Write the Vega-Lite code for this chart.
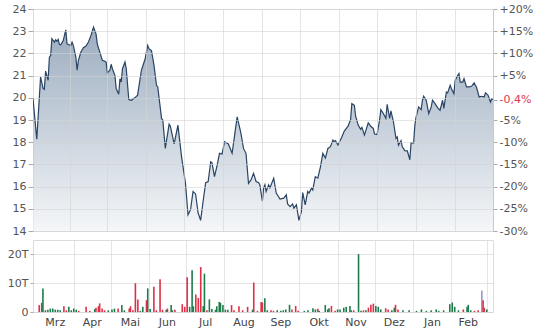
{
  "$schema": "https://vega.github.io/schema/vega-lite/v6.json",
  "background": "white",
  "padding": {"left": 6, "top": 2, "right": 4, "bottom": 2},
  "bounds": "flush",
  "spacing": 9,
  "config": {
    "view": {"stroke": "#dcdcdc"},
    "axis": {"labelFont": "DejaVu Sans", "labelFontSize": 11, "labelColor": "#555555", "tickColor": "#aaaaaa", "gridColor": "#d4d4d4", "gridOpacity": 0.6, "domainColor": "#c8c8c8", "title": null}
  },
  "datasets": {
    "price": [
      {"d":"2023-03-03","p":19.97},{"d":"2023-03-06","p":18.13},{"d":"2023-03-09","p":20.94},{"d":"2023-03-11","p":20.42},{"d":"2023-03-12","p":20.38},{"d":"2023-03-13","p":21.2},{"d":"2023-03-15","p":20.79},{"d":"2023-03-16","p":21.83},{"d":"2023-03-17","p":21.9},{"d":"2023-03-18","p":22.66},{"d":"2023-03-20","p":22.51},{"d":"2023-03-21","p":22.61},{"d":"2023-03-22","p":22.55},{"d":"2023-03-23","p":22.63},{"d":"2023-03-24","p":22.4},{"d":"2023-03-25","p":22.39},{"d":"2023-03-27","p":22.58},{"d":"2023-03-29","p":23.06},{"d":"2023-03-30","p":22.43},{"d":"2023-03-31","p":22.4},
      {"d":"2023-04-02","p":22.36},{"d":"2023-04-03","p":22.51},{"d":"2023-04-04","p":22.36},{"d":"2023-04-06","p":21.83},{"d":"2023-04-07","p":21.24},{"d":"2023-04-08","p":21.69},{"d":"2023-04-10","p":22.06},{"d":"2023-04-12","p":22.26},{"d":"2023-04-14","p":22.33},{"d":"2023-04-16","p":22.51},{"d":"2023-04-18","p":22.81},{"d":"2023-04-20","p":23.18},{"d":"2023-04-21","p":23.03},{"d":"2023-04-22","p":22.88},{"d":"2023-04-23","p":22.43},{"d":"2023-04-25","p":22.06},{"d":"2023-04-27","p":21.69},{"d":"2023-04-29","p":21.65},{"d":"2023-04-30","p":21.61},
      {"d":"2023-05-01","p":21.12},{"d":"2023-05-03","p":21.24},{"d":"2023-05-04","p":21.51},{"d":"2023-05-05","p":21.31},{"d":"2023-05-07","p":21.01},{"d":"2023-05-08","p":20.42},{"d":"2023-05-10","p":20.16},{"d":"2023-05-11","p":20.86},{"d":"2023-05-12","p":20.71},{"d":"2023-05-13","p":21.31},{"d":"2023-05-15","p":21.61},{"d":"2023-05-16","p":21.31},{"d":"2023-05-18","p":19.92},{"d":"2023-05-20","p":19.89},{"d":"2023-05-23","p":20.01},{"d":"2023-05-25","p":20.12},{"d":"2023-05-28","p":21.24},{"d":"2023-05-31","p":21.76},
      {"d":"2023-06-02","p":22.36},{"d":"2023-06-03","p":22.21},{"d":"2023-06-05","p":22.13},{"d":"2023-06-07","p":21.46},{"d":"2023-06-09","p":20.56},{"d":"2023-06-10","p":20.49},{"d":"2023-06-13","p":19.07},{"d":"2023-06-14","p":18.99},{"d":"2023-06-16","p":17.72},{"d":"2023-06-19","p":18.81},{"d":"2023-06-20","p":18.72},{"d":"2023-06-23","p":17.92},{"d":"2023-06-26","p":18.77},{"d":"2023-06-29","p":17.28},
      {"d":"2023-07-02","p":16.15},{"d":"2023-07-04","p":14.73},{"d":"2023-07-06","p":14.96},{"d":"2023-07-08","p":15.78},{"d":"2023-07-10","p":15.67},{"d":"2023-07-12","p":14.82},{"d":"2023-07-14","p":14.48},{"d":"2023-07-16","p":15.34},{"d":"2023-07-18","p":16.18},{"d":"2023-07-20","p":16.23},{"d":"2023-07-22","p":17.12},{"d":"2023-07-23","p":17.08},{"d":"2023-07-25","p":16.45},{"d":"2023-07-27","p":16.93},{"d":"2023-07-29","p":17.5},{"d":"2023-07-31","p":17.47},
      {"d":"2023-08-02","p":18.02},{"d":"2023-08-05","p":17.92},{"d":"2023-08-08","p":17.5},{"d":"2023-08-10","p":18.32},{"d":"2023-08-12","p":19.14},{"d":"2023-08-15","p":18.4},{"d":"2023-08-17","p":17.72},{"d":"2023-08-19","p":17.5},{"d":"2023-08-21","p":16.15},{"d":"2023-08-23","p":16.3},{"d":"2023-08-25","p":16.6},{"d":"2023-08-27","p":16.23},{"d":"2023-08-29","p":16.18},{"d":"2023-08-30","p":16.08},
      {"d":"2023-09-01","p":15.34},{"d":"2023-09-02","p":15.93},{"d":"2023-09-03","p":16.08},{"d":"2023-09-04","p":15.78},{"d":"2023-09-06","p":16.08},{"d":"2023-09-07","p":15.94},{"d":"2023-09-10","p":16.38},{"d":"2023-09-12","p":15.71},{"d":"2023-09-15","p":15.44},{"d":"2023-09-18","p":15.48},{"d":"2023-09-20","p":15.63},{"d":"2023-09-21","p":15.22},{"d":"2023-09-23","p":15.1},{"d":"2023-09-25","p":15.22},{"d":"2023-09-26","p":15.03},{"d":"2023-09-28","p":15.18},{"d":"2023-09-30","p":14.48},
      {"d":"2023-10-02","p":14.88},{"d":"2023-10-03","p":15.73},{"d":"2023-10-05","p":15.18},{"d":"2023-10-07","p":15.78},{"d":"2023-10-08","p":15.71},{"d":"2023-10-10","p":15.93},{"d":"2023-10-11","p":15.85},{"d":"2023-10-13","p":16.45},{"d":"2023-10-15","p":16.38},{"d":"2023-10-17","p":16.87},{"d":"2023-10-19","p":17.5},{"d":"2023-10-21","p":17.28},{"d":"2023-10-23","p":17.72},{"d":"2023-10-25","p":17.8},{"d":"2023-10-27","p":18.1},{"d":"2023-10-28","p":18.02},{"d":"2023-10-29","p":18.07},{"d":"2023-10-31","p":17.87},
      {"d":"2023-11-03","p":18.22},{"d":"2023-11-05","p":18.5},{"d":"2023-11-08","p":18.72},{"d":"2023-11-10","p":19.02},{"d":"2023-11-11","p":19.74},{"d":"2023-11-13","p":19.66},{"d":"2023-11-14","p":19.17},{"d":"2023-11-16","p":18.77},{"d":"2023-11-18","p":18.58},{"d":"2023-11-19","p":18.67},{"d":"2023-11-21","p":18.32},{"d":"2023-11-24","p":18.87},{"d":"2023-11-26","p":18.72},{"d":"2023-11-28","p":18.62},{"d":"2023-11-29","p":18.37},
      {"d":"2023-12-01","p":18.35},{"d":"2023-12-03","p":19.0},{"d":"2023-12-04","p":19.46},{"d":"2023-12-06","p":19.29},{"d":"2023-12-08","p":19.07},{"d":"2023-12-09","p":19.71},{"d":"2023-12-11","p":19.07},{"d":"2023-12-12","p":19.41},{"d":"2023-12-14","p":18.92},{"d":"2023-12-16","p":18.17},{"d":"2023-12-17","p":18.24},{"d":"2023-12-18","p":17.87},{"d":"2023-12-20","p":18.07},{"d":"2023-12-21","p":17.8},{"d":"2023-12-23","p":17.62},{"d":"2023-12-25","p":17.61},{"d":"2023-12-27","p":17.21},{"d":"2023-12-28","p":17.98},{"d":"2023-12-30","p":17.96},{"d":"2023-12-31","p":18.77},
      {"d":"2024-01-01","p":19.14},{"d":"2024-01-03","p":19.59},{"d":"2024-01-05","p":19.47},{"d":"2024-01-06","p":19.89},{"d":"2024-01-07","p":20.07},{"d":"2024-01-09","p":19.89},{"d":"2024-01-11","p":19.29},{"d":"2024-01-13","p":19.59},{"d":"2024-01-14","p":19.89},{"d":"2024-01-16","p":19.74},{"d":"2024-01-18","p":19.56},{"d":"2024-01-20","p":19.44},{"d":"2024-01-22","p":19.89},{"d":"2024-01-23","p":19.52},{"d":"2024-01-25","p":20.26},{"d":"2024-01-26","p":20.22},{"d":"2024-01-28","p":20.56},{"d":"2024-01-29","p":20.41},{"d":"2024-01-31","p":20.19},
      {"d":"2024-02-01","p":20.79},{"d":"2024-02-03","p":21.01},{"d":"2024-02-04","p":21.09},{"d":"2024-02-05","p":20.71},{"d":"2024-02-07","p":20.71},{"d":"2024-02-08","p":20.86},{"d":"2024-02-10","p":20.49},{"d":"2024-02-12","p":20.49},{"d":"2024-02-14","p":20.52},{"d":"2024-02-16","p":20.67},{"d":"2024-02-18","p":20.46},{"d":"2024-02-20","p":20.04},{"d":"2024-02-22","p":20.07},{"d":"2024-02-24","p":20.04},{"d":"2024-02-25","p":20.22},{"d":"2024-02-27","p":20.12},{"d":"2024-02-29","p":19.81},{"d":"2024-03-01","p":19.96},{"d":"2024-03-02","p":19.92}
    ],
    "vol": [
      {"d":"2023-03-04","v":2.4,"dir":"down"},{"d":"2023-03-06","v":3.2,"dir":"down"},{"d":"2023-03-07","v":8.2,"dir":"up"},{"d":"2023-03-09","v":0.6,"dir":"up"},{"d":"2023-03-11","v":0.8,"dir":"up"},{"d":"2023-03-13","v":1.2,"dir":"up"},{"d":"2023-03-15","v":1.2,"dir":"up"},{"d":"2023-03-17","v":0.8,"dir":"up"},{"d":"2023-03-19","v":0.8,"dir":"up"},{"d":"2023-03-21","v":0.6,"dir":"up"},{"d":"2023-03-24","v":2.0,"dir":"down"},{"d":"2023-03-26","v":0.6,"dir":"down"},{"d":"2023-03-28","v":1.8,"dir":"up"},{"d":"2023-03-30","v":0.6,"dir":"up"},
      {"d":"2023-04-01","v":1.2,"dir":"up"},{"d":"2023-04-03","v":0.8,"dir":"up"},{"d":"2023-04-05","v":0.4,"dir":"down"},{"d":"2023-04-11","v":1.8,"dir":"down"},{"d":"2023-04-14","v":0.4,"dir":"down"},{"d":"2023-04-18","v":1.0,"dir":"up"},{"d":"2023-04-19","v":1.5,"dir":"down"},{"d":"2023-04-21","v":2.0,"dir":"down"},{"d":"2023-04-22","v":3.0,"dir":"down"},{"d":"2023-04-24","v":1.2,"dir":"down"},{"d":"2023-04-26","v":0.6,"dir":"down"},{"d":"2023-04-29","v":0.6,"dir":"up"},
      {"d":"2023-05-02","v":0.9,"dir":"up"},{"d":"2023-05-04","v":1.2,"dir":"up"},{"d":"2023-05-07","v":1.2,"dir":"down"},{"d":"2023-05-10","v":2.4,"dir":"up"},{"d":"2023-05-12","v":0.6,"dir":"up"},{"d":"2023-05-16","v":1.2,"dir":"down"},{"d":"2023-05-17","v":2.0,"dir":"down"},{"d":"2023-05-19","v":0.6,"dir":"down"},{"d":"2023-05-21","v":10.0,"dir":"down"},{"d":"2023-05-23","v":4.3,"dir":"down"},{"d":"2023-05-25","v":0.4,"dir":"up"},{"d":"2023-05-27","v":1.8,"dir":"up"},{"d":"2023-05-30","v":4.1,"dir":"down"},{"d":"2023-05-31","v":8.2,"dir":"up"},
      {"d":"2023-06-02","v":1.0,"dir":"up"},{"d":"2023-06-05","v":8.8,"dir":"down"},{"d":"2023-06-07","v":0.6,"dir":"down"},{"d":"2023-06-10","v":11.4,"dir":"down"},{"d":"2023-06-12","v":0.8,"dir":"down"},{"d":"2023-06-15","v":0.8,"dir":"up"},{"d":"2023-06-16","v":1.2,"dir":"down"},{"d":"2023-06-19","v":2.4,"dir":"up"},{"d":"2023-06-20","v":0.6,"dir":"up"},{"d":"2023-06-22","v":0.8,"dir":"down"},{"d":"2023-06-28","v":2.7,"dir":"down"},{"d":"2023-06-30","v":1.8,"dir":"down"},
      {"d":"2023-07-02","v":12.1,"dir":"down"},{"d":"2023-07-04","v":1.8,"dir":"up"},{"d":"2023-07-06","v":14.5,"dir":"up"},{"d":"2023-07-07","v":2.0,"dir":"up"},{"d":"2023-07-09","v":6.1,"dir":"down"},{"d":"2023-07-11","v":4.9,"dir":"down"},{"d":"2023-07-13","v":15.6,"dir":"down"},{"d":"2023-07-15","v":2.0,"dir":"up"},{"d":"2023-07-16","v":13.3,"dir":"up"},{"d":"2023-07-18","v":0.6,"dir":"down"},{"d":"2023-07-20","v":4.4,"dir":"up"},{"d":"2023-07-22","v":1.0,"dir":"up"},{"d":"2023-07-25","v":0.8,"dir":"up"},{"d":"2023-07-26","v":2.0,"dir":"up"},{"d":"2023-07-28","v":3.5,"dir":"up"},{"d":"2023-07-29","v":3.2,"dir":"up"},{"d":"2023-07-31","v":2.4,"dir":"up"},
      {"d":"2023-08-02","v":0.8,"dir":"up"},{"d":"2023-08-04","v":0.8,"dir":"up"},{"d":"2023-08-07","v":2.4,"dir":"down"},{"d":"2023-08-09","v":0.6,"dir":"down"},{"d":"2023-08-13","v":2.0,"dir":"down"},{"d":"2023-08-16","v":0.6,"dir":"down"},{"d":"2023-08-20","v":1.8,"dir":"down"},{"d":"2023-08-24","v":0.8,"dir":"up"},{"d":"2023-08-25","v":10.2,"dir":"down"},{"d":"2023-08-28","v":0.4,"dir":"down"},{"d":"2023-08-31","v":3.5,"dir":"down"},
      {"d":"2023-09-01","v":3.3,"dir":"down"},{"d":"2023-09-03","v":4.8,"dir":"up"},{"d":"2023-09-05","v":0.6,"dir":"up"},{"d":"2023-09-08","v":0.6,"dir":"down"},{"d":"2023-09-10","v":0.4,"dir":"down"},{"d":"2023-09-13","v":0.6,"dir":"up"},{"d":"2023-09-16","v":0.4,"dir":"up"},{"d":"2023-09-18","v":0.6,"dir":"up"},{"d":"2023-09-20","v":0.9,"dir":"up"},{"d":"2023-09-23","v":2.5,"dir":"up"},{"d":"2023-09-25","v":0.9,"dir":"down"},{"d":"2023-09-28","v":2.1,"dir":"down"},{"d":"2023-09-30","v":0.4,"dir":"down"},
      {"d":"2023-10-05","v":0.4,"dir":"up"},{"d":"2023-10-08","v":0.6,"dir":"up"},{"d":"2023-10-12","v":1.3,"dir":"up"},{"d":"2023-10-14","v":0.9,"dir":"up"},{"d":"2023-10-16","v":1.1,"dir":"down"},{"d":"2023-10-17","v":0.4,"dir":"up"},{"d":"2023-10-22","v":2.4,"dir":"up"},{"d":"2023-10-24","v":0.9,"dir":"up"},{"d":"2023-10-25","v":1.3,"dir":"up"},{"d":"2023-10-27","v":2.1,"dir":"down"},{"d":"2023-10-30","v":0.4,"dir":"down"},
      {"d":"2023-11-01","v":0.9,"dir":"up"},{"d":"2023-11-03","v":0.9,"dir":"up"},{"d":"2023-11-06","v":1.5,"dir":"up"},{"d":"2023-11-08","v":1.8,"dir":"up"},{"d":"2023-11-11","v":2.1,"dir":"up"},{"d":"2023-11-12","v":0.6,"dir":"up"},{"d":"2023-11-14","v":0.6,"dir":"down"},{"d":"2023-11-18","v":20.1,"dir":"up"},{"d":"2023-11-20","v":0.4,"dir":"up"},{"d":"2023-11-22","v":0.6,"dir":"down"},{"d":"2023-11-24","v":0.6,"dir":"up"},{"d":"2023-11-26","v":1.5,"dir":"down"},{"d":"2023-11-28","v":2.5,"dir":"down"},{"d":"2023-11-30","v":2.9,"dir":"down"},
      {"d":"2023-12-02","v":2.1,"dir":"up"},{"d":"2023-12-04","v":1.8,"dir":"up"},{"d":"2023-12-06","v":0.9,"dir":"up"},{"d":"2023-12-10","v":1.3,"dir":"down"},{"d":"2023-12-12","v":0.9,"dir":"down"},{"d":"2023-12-15","v":0.6,"dir":"up"},{"d":"2023-12-17","v":1.5,"dir":"up"},{"d":"2023-12-18","v":2.5,"dir":"down"},{"d":"2023-12-20","v":0.9,"dir":"down"},{"d":"2023-12-24","v":0.6,"dir":"up"},{"d":"2023-12-29","v":0.6,"dir":"up"},
      {"d":"2024-01-04","v":0.4,"dir":"up"},{"d":"2024-01-08","v":0.9,"dir":"up"},{"d":"2024-01-12","v":0.4,"dir":"up"},{"d":"2024-01-16","v":0.6,"dir":"up"},{"d":"2024-01-20","v":0.9,"dir":"up"},{"d":"2024-01-22","v":0.4,"dir":"up"},{"d":"2024-01-26","v":0.6,"dir":"up"},{"d":"2024-01-31","v":2.7,"dir":"up"},
      {"d":"2024-02-02","v":3.3,"dir":"up"},{"d":"2024-02-04","v":1.8,"dir":"up"},{"d":"2024-02-07","v":0.6,"dir":"up"},{"d":"2024-02-11","v":0.9,"dir":"down"},{"d":"2024-02-14","v":1.8,"dir":"up"},{"d":"2024-02-15","v":2.5,"dir":"up"},{"d":"2024-02-17","v":0.6,"dir":"up"},{"d":"2024-02-20","v":0.4,"dir":"down"},{"d":"2024-02-23","v":0.6,"dir":"down"},{"d":"2024-02-26","v":7.4,"dir":"other"},{"d":"2024-02-27","v":4.1,"dir":"down"},{"d":"2024-02-28","v":1.5,"dir":"down"},{"d":"2024-03-01","v":0.9,"dir":"up"}
    ],
    "ref": [{"pct": -0.4}]
  },
  "vconcat": [
    {
      "width": 460,
      "height": 222,
      "layer": [
        {
          "data": {"name": "price"},
          "mark": {"type": "area", "clip": true, "line": {"color": "#2a4463", "strokeWidth": 1.2}, "color": {"gradient": "linear", "x1": 0, "y1": 1, "x2": 0, "y2": 0, "stops": [{"offset": 0, "color": "#f0f3f6"}, {"offset": 1, "color": "#7189a4"}]}},
          "encoding": {
            "x": {"field": "d", "type": "temporal", "scale": {"type": "utc", "domain": [{"year": 2023, "month": 3, "date": 3, "utc": true}, {"year": 2024, "month": 3, "date": 2, "utc": true}]},
              "axis": {"values": [{"year":2023,"month":4,"date":1,"utc":true},{"year":2023,"month":5,"date":1,"utc":true},{"year":2023,"month":6,"date":1,"utc":true},{"year":2023,"month":7,"date":1,"utc":true},{"year":2023,"month":8,"date":1,"utc":true},{"year":2023,"month":9,"date":1,"utc":true},{"year":2023,"month":10,"date":1,"utc":true},{"year":2023,"month":11,"date":1,"utc":true},{"year":2023,"month":12,"date":1,"utc":true},{"year":2024,"month":1,"date":1,"utc":true},{"year":2024,"month":2,"date":1,"utc":true}], "labels": false, "ticks": false, "domain": false, "grid": true, "zindex": 1}},
            "y": {"field": "p", "type": "quantitative", "scale": {"domain": [14, 24], "nice": false, "zero": false},
              "axis": {"values": [14,15,16,17,18,19,20,21,22,23,24], "tickSize": 5, "labelPadding": 2, "domain": false, "grid": true, "zindex": 1}},
            "y2": {"datum": 14}
          }
        },
        {
          "data": {"name": "ref"},
          "mark": {"type": "rule", "opacity": 0},
          "encoding": {
            "y": {"field": "pct", "type": "quantitative", "scale": {"domain": [-30, 20], "nice": false, "zero": false},
              "axis": {"orient": "right", "values": [20,15,10,5,-0.4,-5,-10,-15,-20,-25,-30], "labelExpr": "datum.value == -0.4 ? '-0,4%' : (datum.value > 0 ? '+' + datum.value + '%' : datum.value + '%')", "labelColor": {"condition": {"test": "datum.value == -0.4", "value": "#e0394f"}, "value": "#555555"}, "tickSize": 4, "labelPadding": 2, "grid": false, "domain": true}}
          }
        }
      ],
      "resolve": {"scale": {"y": "independent"}}
    },
    {
      "width": 460,
      "height": 72,
      "data": {"name": "vol"},
      "mark": {"type": "bar", "size": 1.6},
      "encoding": {
        "x": {"field": "d", "type": "temporal", "scale": {"type": "utc", "domain": [{"year": 2023, "month": 3, "date": 3, "utc": true}, {"year": 2024, "month": 3, "date": 2, "utc": true}]},
          "axis": {"values": [{"year":2023,"month":4,"date":1,"utc":true},{"year":2023,"month":5,"date":1,"utc":true},{"year":2023,"month":6,"date":1,"utc":true},{"year":2023,"month":7,"date":1,"utc":true},{"year":2023,"month":8,"date":1,"utc":true},{"year":2023,"month":9,"date":1,"utc":true},{"year":2023,"month":10,"date":1,"utc":true},{"year":2023,"month":11,"date":1,"utc":true},{"year":2023,"month":12,"date":1,"utc":true},{"year":2024,"month":1,"date":1,"utc":true},{"year":2024,"month":2,"date":1,"utc":true},{"year":2024,"month":3,"date":1,"utc":true}],
            "labelExpr": "['Dez','Jan','Feb','Mrz','Apr','Mai','Jun','Jul','Aug','Sep','Okt','Nov'][utcmonth(datum.value)]", "labelOffset": -19, "labelFlush": false, "labelOverlap": false, "labelPadding": 4, "labelColor": "#444444", "ticks": false, "domain": false, "grid": true}},
        "y": {"field": "v", "type": "quantitative", "scale": {"domain": [0, 25], "nice": false},
          "axis": {"values": [0, 10, 20], "labelExpr": "datum.value == 0 ? '0' : datum.value + 'T'", "tickSize": 3, "labelPadding": 2, "domain": false, "grid": true}},
        "color": {"field": "dir", "type": "nominal", "scale": {"domain": ["up", "down", "other"], "range": ["#1e7b4b", "#de2f47", "#8e98d2"]}, "legend": null}
      }
    }
  ]
}
